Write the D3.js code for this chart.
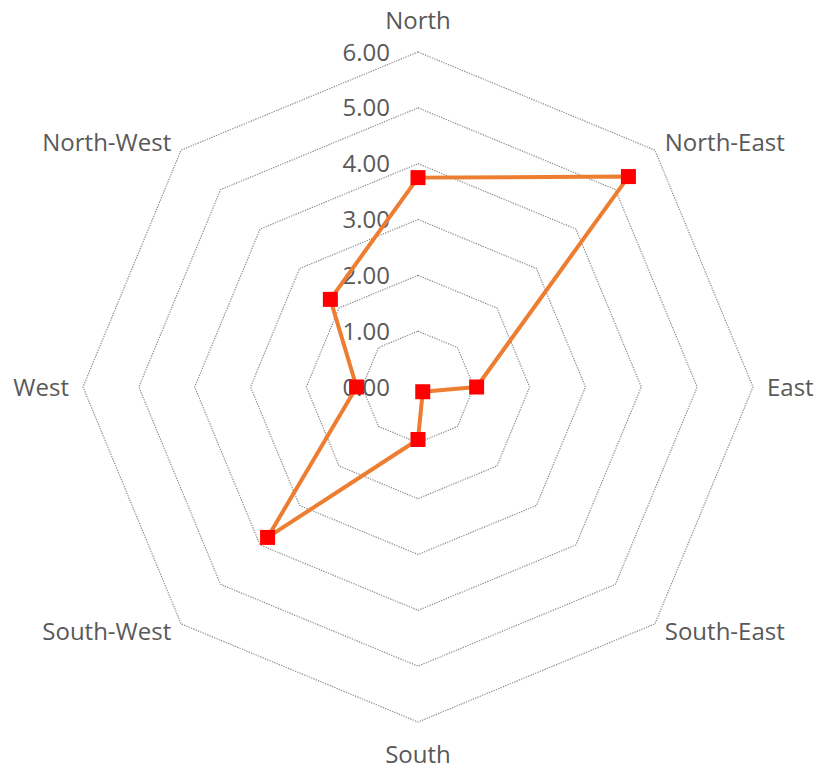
<!DOCTYPE html>
<html>
<head>
<meta charset="utf-8">
<script src="https://cdn.jsdelivr.net/npm/d3@7"></script>
<style>
  html, body { margin: 0; padding: 0; background: #ffffff; }
  svg { display: block; }
  text { font-family: "Open Sans", "Noto Sans", sans-serif; fill: #595959; }
</style>
</head>
<body>
<svg id="chart" width="815" height="769"></svg>
<script>
// Wind-direction radar: one value per compass point
const directions = ["North", "North-East", "East", "South-East", "South", "South-West", "West", "North-West"];
const values = [3.75, 5.33, 1.05, 0.12, 0.94, 3.81, 1.10, 2.22];
const tickValues = [0, 1, 2, 3, 4, 5, 6];
const tickLabels = ["0.00", "1.00", "2.00", "3.00", "4.00", "5.00", "6.00"];

const width = 815, height = 769;
const cx = 418, cy = 387, outerR = 335;
const fontSize = 24;

const svg = d3.select("#chart");
const g = svg.append("g").attr("transform", `translate(${cx},${cy})`);

const r = d3.scaleLinear().domain([0, 6]).range([0, outerR]);
const angle = d3.scalePoint().domain(directions).range([0, 2 * Math.PI * (directions.length - 1) / directions.length]);

const px = (a, rad) => rad * Math.sin(a);
const py = (a, rad) => -rad * Math.cos(a);

// Concentric octagon gridlines
const gridLine = d3.line().curve(d3.curveLinearClosed);
g.append("g").attr("class", "grid")
  .selectAll("path")
  .data(tickValues.filter(v => v > 0))
  .join("path")
  .attr("d", v => gridLine(directions.map(d => [px(angle(d), r(v)), py(angle(d), r(v))])))
  .attr("fill", "none")
  .attr("stroke", "#8c8c8c")
  .attr("stroke-width", 1.2)
  .attr("stroke-dasharray", "1.3,1.2");

// Value scale labels along the North axis
g.append("g").attr("class", "ticks")
  .selectAll("text")
  .data(tickValues)
  .join("text")
  .attr("x", -28)
  .attr("y", v => -r(v))
  .attr("dy", "0.36em")
  .attr("text-anchor", "end")
  .attr("font-size", fontSize)
  .text((v, i) => tickLabels[i]);

// Direction labels outside the outer ring
g.append("g").attr("class", "axis-labels")
  .selectAll("text")
  .data(directions)
  .join("text")
  .each(function(d) {
    const a = angle(d);
    const s = Math.sin(a), c = Math.cos(a);
    const vx = px(a, outerR), vy = py(a, outerR);
    const x = vx + s * 14;
    const y = vy - c * (Math.abs(c) > 0.9 ? 32 : 11);
    d3.select(this)
      .attr("x", x)
      .attr("y", y)
      .attr("dy", "0.36em")
      .attr("text-anchor", Math.abs(s) < 0.1 ? "middle" : (s > 0 ? "start" : "end"));
  })
  .attr("font-size", fontSize)
  .text(d => d);

// Data series
const pts = directions.map((d, i) => [px(angle(d), r(values[i])), py(angle(d), r(values[i]))]);
g.append("path")
  .attr("d", gridLine(pts))
  .attr("fill", "none")
  .attr("stroke", "#ED7D31")
  .attr("stroke-width", 4)
  .attr("stroke-linejoin", "round");

const ms = 15;
g.append("g").attr("class", "markers")
  .selectAll("rect")
  .data(pts)
  .join("rect")
  .attr("x", p => p[0] - ms / 2)
  .attr("y", p => p[1] - ms / 2)
  .attr("width", ms)
  .attr("height", ms)
  .attr("fill", "#FF0000");
</script>
</body>
</html>
